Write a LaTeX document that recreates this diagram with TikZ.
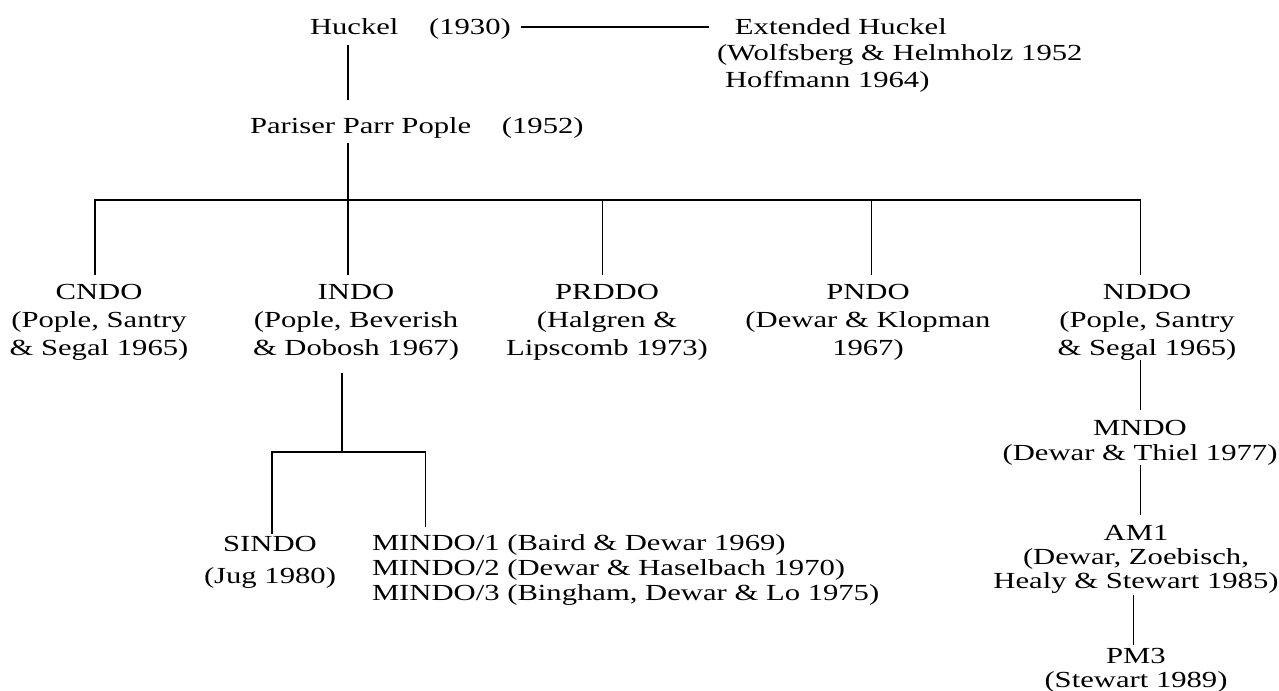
\documentclass[tikz,border=0pt]{standalone}
\usepackage{fontspec}
\setmainfont{Liberation Serif}
\usetikzlibrary{calc}
\begin{document}
\begin{tikzpicture}[x=0.75057pt, y=-1pt, xscale=1.3323,
  every node/.append style={transform shape},
  lbl/.style={inner sep=0pt, outer sep=0pt, font=\fontsize{23}{28}\selectfont, align=center, anchor=base},
  lblL/.style={lbl, align=left, anchor=base west},
  link/.style={line width=1.1pt, black}]
\useasboundingbox (0,0) rectangle (1279,690);

% nodes (multi-line nodes are placed by the baseline of their last line)
\node[lblL] (huckel) at (310,35) {Huckel\quad(1930)};
\node[lblL] (ppp) at (250,133) {Pariser Parr Pople\quad(1952)};
\node[lblL, font=\fontsize{23}{26}\selectfont] (ext) at (717,87)
  {\hspace*{13.5pt}Extended Huckel\\(Wolfsberg \& Helmholz 1952\\\hspace*{6pt}Hoffmann 1964)};

\node[lbl] (cndo)  at (99,355)   {CNDO\\(Pople, Santry\\\& Segal 1965)};
\node[lbl] (indo)  at (356,355)  {INDO\\(Pople, Beverish\\\& Dobosh 1967)};
\node[lbl] (prddo) at (607,355)  {PRDDO\\(Halgren \&\\Lipscomb 1973)};
\node[lbl] (pndo)  at (868,355)  {PNDO\\(Dewar \& Klopman\\1967)};
\node[lbl] (nddo)  at (1147,355) {NDDO\\(Pople, Santry\\\& Segal 1965)};

\node[lbl, font=\fontsize{23}{25}\selectfont] (mndo) at (1140,460) {MNDO\\(Dewar \& Thiel 1977)};
\node[lbl, font=\fontsize{23}{24}\selectfont] (am1) at (1136,588) {AM1\\(Dewar, Zoebisch,\\Healy \& Stewart 1985)};
\node[lbl, font=\fontsize{23}{24}\selectfont] (pm3) at (1136,687) {PM3\\(Stewart 1989)};

\node[lbl, font=\fontsize{23}{32}\selectfont] (sindo) at (270,583) {SINDO\\(Jug 1980)};
\node[lblL, font=\fontsize{23}{25}\selectfont] (mindo) at (372,600)
  {MINDO/1 (Baird \& Dewar 1969)\\MINDO/2 (Dewar \& Haselbach 1970)\\MINDO/3 (Bingham, Dewar \& Lo 1975)};

% junction coordinates
\coordinate (hx) at (348,0);
\coordinate (bus) at (348,200);
\coordinate (bc) at (95,200);
\coordinate (bp) at (602,200);
\coordinate (bq) at (871,200);
\coordinate (bn) at (1140,200);
\coordinate (ij) at (342,452);
\coordinate (sj) at (272,452);
\coordinate (mj) at (425,452);
\coordinate (nx) at (1140,0);
\coordinate (ax) at (1133,0);
\coordinate (he) at ($(huckel.base east)+(10,-8)$);

% connectors
\draw[link] (he) -- ($(he -| ext.west)+(-8,0)$);
\draw[link] ($(huckel.south -| hx)+(0,5)$) -- ($(ppp.north -| hx)+(0,-17)$);
\draw[link] ($(ppp.south -| hx)+(0,5)$) -- (bus);
\draw[link] ($(cndo.north -| bc)+(0,-9)$) -- (bc) -- (bn) -- ($(nddo.north -| bn)+(0,-9)$);
\draw[link] (bus) -- ($(indo.north -| bus)+(0,-9)$);
\draw[link] (bp) -- ($(prddo.north -| bp)+(0,-9)$);
\draw[link] (bq) -- ($(pndo.north -| bq)+(0,-9)$);

\draw[link] ($(indo.south -| ij)+(0,13)$) -- (ij);
\draw[link] ($(sindo.north -| sj)+(0,-2)$) -- (sj) -- (mj) -- ($(mindo.north -| mj)+(0,-7)$);

\draw[link] (nddo.south -| nx) -- ($(mndo.north -| nx)+(0,-10)$);
\draw[link] (mndo.south -| nx) -- ($(am1.north -| nx)+(0,-10)$);
\draw[link] ($(am1.south -| ax)+(0,2)$) -- ($(pm3.north -| ax)+(0,-3)$);
\end{tikzpicture}
\end{document}
